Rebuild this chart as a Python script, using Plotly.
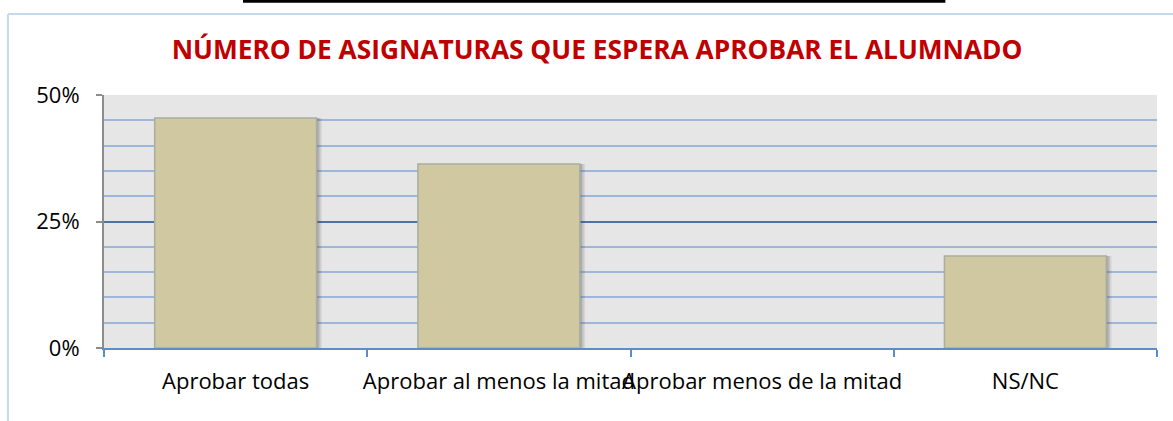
import plotly.graph_objects as go

categories = ["Aprobar todas", "Aprobar al menos la mitad", "Aprobar menos de la mitad", "NS/NC"]
values = [0.4545, 0.3636, 0.0, 0.1818]
y_ticks = [0, 0.25, 0.5]
y_tick_labels = ["0%", "25%", "50%"]

BAR_W = 0.615
fig = go.Figure()
# soft shadow behind the bars
for off, alpha in [(0.020, 0.10), (0.014, 0.14), (0.008, 0.18)]:
    fig.add_trace(go.Bar(
        x=categories, y=values, width=BAR_W, offset=-BAR_W / 2 + off,
        marker=dict(color=f"rgba(70,70,80,{alpha})", line=dict(width=0)),
        hoverinfo="skip",
    ))
fig.add_trace(go.Bar(
    x=categories, y=values, width=BAR_W, offset=-BAR_W / 2,
    marker=dict(color="#CFC8A0",
                line=dict(color="#A9AE9E", width=[1.5 if v > 0 else 0 for v in values])),
    hoverinfo="x+y",
))

fig.update_layout(
    width=1173, height=421,
    margin=dict(l=104, r=16, t=95, b=73),
    paper_bgcolor="white",
    plot_bgcolor="#E6E6E6",
    showlegend=False,
    barmode="overlay",
    title=dict(
        text="<b>NÚMERO DE ASIGNATURAS QUE ESPERA APROBAR EL ALUMNADO</b>",
        x=0.509, xanchor="center", y=0.881, yanchor="middle",
        font=dict(family="Open Sans", size=26.3, color="#C00000"),
    ),
    font=dict(family="Open Sans", size=22, color="black"),
)

fig.update_xaxes(
    type="category", tickson="boundaries", tickangle=0,
    showgrid=False, showline=True, linecolor="#5B8DCB", linewidth=2,
    ticks="outside", ticklen=7, tickcolor="#5B8DCB", tickwidth=2,
    ticklabelstandoff=13,
    tickfont=dict(family="Open Sans", size=22, color="black"),
    range=[-0.5, 3.5],
)
fig.update_yaxes(
    range=[0, 0.5], tickvals=y_ticks, ticktext=y_tick_labels,
    showgrid=True, gridcolor="#4E73A3", gridwidth=1.5,
    showline=True, linecolor="#8C8C8C", linewidth=2,
    ticks="outside", ticklen=6, tickcolor="#8C8C8C", tickwidth=2,
    ticklabelstandoff=12,
    tickfont=dict(family="Open Sans", size=22, color="black"),
    zeroline=False,
    minor=dict(dtick=0.05, showgrid=True, gridcolor="#9DB6DA", gridwidth=1.5, ticks=""),
)

# chart frame (light blue) and top black line of the page
fig.add_shape(type="line", xref="paper", yref="paper", x0=-0.0912, x1=1.02, y0=1.32, y1=1.32,
              line=dict(color="#C6D9EF", width=2))
fig.add_shape(type="line", xref="paper", yref="paper", x0=-0.0912, x1=-0.0912, y0=-0.3, y1=1.32,
              line=dict(color="#C6D9EF", width=2))
fig.add_shape(type="line", xref="paper", yref="paper", x0=0.132, x1=0.799, y0=1.371, y1=1.371,
              line=dict(color="black", width=3))

fig.write_html("out.html", config={"displayModeBar": False},
               post_script="document.body.style.margin='0';document.body.style.overflow='hidden';")
